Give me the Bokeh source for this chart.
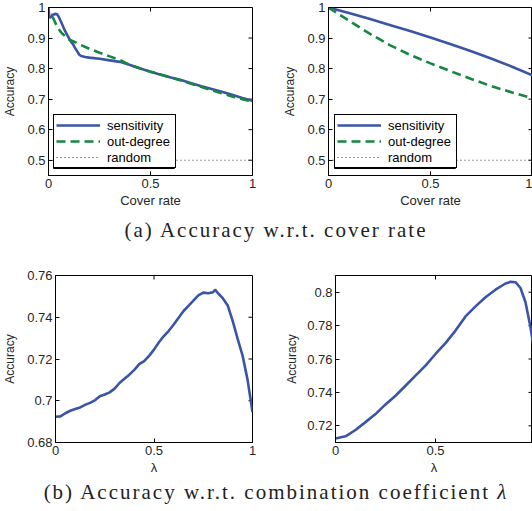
import math
from bokeh.plotting import figure
from bokeh.models import (FixedTicker, CustomJSTickFormatter, Legend,
                          LegendItem, Div, Range1d, BoxAnnotation)
from bokeh.layouts import row, column
from bokeh.embed import file_html
from bokeh.resources import INLINE

# ---------------- data ----------------
# (a-left) accuracy vs cover rate
tl_sens_x = [0, 0.003, 0.006, 0.01, 0.015, 0.02, 0.025, 0.03, 0.035, 0.04, 0.045, 0.05,
             0.06, 0.07, 0.08, 0.09, 0.10, 0.11, 0.12, 0.13, 0.14, 0.15, 0.16, 0.18, 0.20,
             0.25, 0.30, 0.35, 0.40, 0.45, 0.50, 0.55, 0.60, 0.65, 0.70, 0.75, 0.80, 0.85,
             0.90, 0.95, 1.00]
tl_sens_y = [1.0, 0.975, 0.965, 0.972, 0.968, 0.978, 0.975, 0.98, 0.978, 0.979, 0.975, 0.97,
             0.955, 0.94, 0.925, 0.912, 0.90, 0.888, 0.88, 0.868, 0.857, 0.846, 0.841, 0.838,
             0.836, 0.832, 0.827, 0.822, 0.812, 0.800, 0.790, 0.780, 0.771, 0.763, 0.752,
             0.742, 0.733, 0.724, 0.714, 0.704, 0.695]
tl_out_x = [0.02, 0.03, 0.04, 0.05, 0.06, 0.07, 0.08, 0.09, 0.10, 0.12, 0.15, 0.20, 0.25,
            0.30, 0.35, 0.40, 0.45, 0.50, 0.55, 0.60, 0.65, 0.70, 0.75, 0.80, 0.85, 0.90,
            0.95, 1.00]
tl_out_y = [0.97, 0.955, 0.94, 0.93, 0.92, 0.913, 0.907, 0.90, 0.895, 0.89, 0.88, 0.865,
            0.852, 0.84, 0.828, 0.812, 0.80, 0.79, 0.781, 0.771, 0.761, 0.750, 0.740, 0.729,
            0.719, 0.709, 0.700, 0.692]
# (a-right)
tr_sens_x = [0, 0.1, 0.2, 0.3, 0.4, 0.5, 0.6, 0.7, 0.8, 0.9, 1.0]
tr_sens_y = [1.0, 0.982, 0.963, 0.943, 0.923, 0.902, 0.880, 0.857, 0.832, 0.806, 0.778]
tr_out_x = [0, 0.05, 0.1, 0.2, 0.3, 0.4, 0.5, 0.6, 0.7, 0.8, 0.9, 1.0]
tr_out_y = [1.0, 0.978, 0.957, 0.915, 0.877, 0.845, 0.817, 0.791, 0.766, 0.742, 0.722, 0.703]
random_x = [0, 1]
random_y = [0.5, 0.5]

# (b-left) accuracy vs lambda
bl_x = [0, 0.025, 0.05, 0.075, 0.1, 0.125, 0.15, 0.175, 0.2, 0.225, 0.25, 0.275, 0.3,
        0.325, 0.35, 0.375, 0.4, 0.425, 0.45, 0.475, 0.5, 0.525, 0.55, 0.575, 0.6, 0.625,
        0.65, 0.675, 0.7, 0.725, 0.75, 0.775, 0.8, 0.81, 0.825, 0.85, 0.875, 0.9, 0.925,
        0.95, 0.975, 1.0]
bl_y = [0.6923, 0.6925, 0.694, 0.6952, 0.696, 0.6968, 0.698, 0.699, 0.7002, 0.7022, 0.7030,
        0.704, 0.7058, 0.7085, 0.7105, 0.7125, 0.7148, 0.7175, 0.7190, 0.7215, 0.7245, 0.728,
        0.731, 0.7335, 0.7365, 0.7398, 0.743, 0.7455, 0.748, 0.7505, 0.7518, 0.7515, 0.7520,
        0.7532, 0.7515, 0.7490, 0.7455, 0.738, 0.7295, 0.7215, 0.710, 0.6946]
# (b-right)
br_x = [0, 0.05, 0.1, 0.15, 0.2, 0.25, 0.3, 0.35, 0.4, 0.45, 0.5, 0.55, 0.6, 0.65, 0.7,
        0.75, 0.8, 0.85, 0.875, 0.9, 0.925, 0.95, 0.975, 1.0]
br_y = [0.7124, 0.7137, 0.7175, 0.7222, 0.727, 0.7328, 0.738, 0.744, 0.750, 0.756, 0.763,
        0.7695, 0.777, 0.7855, 0.7915, 0.797, 0.8015, 0.8052, 0.8062, 0.806, 0.8025, 0.794,
        0.779, 0.76]

cover_ticks = [0, 0.5, 1]
acc_ticks_a = [0.5, 0.6, 0.7, 0.8, 0.9, 1.0]
acc_ticks_bl = [0.68, 0.70, 0.72, 0.74, 0.76]
acc_ticks_br = [0.72, 0.74, 0.76, 0.78, 0.80]
legend_labels = ["sensitivity", "out-degree", "random"]
captions = ["(a) Accuracy w.r.t. cover rate",
            "(b) Accuracy w.r.t. combination coefficient <i>&lambda;</i>"]

BLUE = "#3a54a6"
GREEN = "#15873f"
FONT = "Liberation Sans"
TXT = "#262626"

# legend geometry (screen px)
LEG_PAD, LEG_GLYPH_W, LEG_ROW_H, LEG_STANDOFF, LEG_LABEL_W = 2, 44, 16, 7, 66


def fmt():
    return CustomJSTickFormatter(code="return String(parseFloat(tick.toFixed(4)));")


def make_fig(width, height, mbl, mbr, mbt, mbb, xr, yr, xticks, yticks, xlabel,
             ylabel_standoff=7):
    p = figure(width=width, height=height, x_range=Range1d(*xr), y_range=Range1d(*yr),
               output_backend="svg", toolbar_location=None,
               min_border_left=mbl, min_border_right=mbr,
               min_border_top=mbt, min_border_bottom=mbb)
    p.xgrid.visible = False
    p.ygrid.visible = False
    p.outline_line_color = "black"
    p.outline_line_alpha = 1
    p.outline_line_width = 1
    p.background_fill_color = "white"
    p.border_fill_color = "white"

    xa = p.xaxis[0]
    ya = p.yaxis[0]
    xa.ticker = FixedTicker(ticks=xticks)
    ya.ticker = FixedTicker(ticks=yticks)
    xa.formatter = fmt()
    ya.formatter = fmt()
    xa.axis_label = xlabel
    ya.axis_label = "Accuracy"
    for ax in (xa, ya):
        ax.axis_line_color = "black"
        ax.major_tick_in = 4
        ax.major_tick_out = 0
        ax.major_tick_line_color = "black"
        ax.minor_tick_line_color = None
        ax.major_label_text_font = FONT
        ax.major_label_text_font_size = "13px"
        ax.major_label_text_color = TXT
        ax.major_label_standoff = 3
        ax.axis_label_text_font = FONT
        ax.axis_label_text_font_style = "normal"
        ax.axis_label_text_color = TXT
    xa.axis_label_text_font_size = "13px"
    ya.axis_label_text_font_size = "12px"
    xa.axis_label_standoff = 2
    ya.axis_label_standoff = ylabel_standoff

    # inward tick marks on the top and right edges of the box (MATLAB "box on")
    tx = [t for t in xticks if xr[0] <= t <= xr[1]]
    ty = [t for t in yticks if yr[0] <= t <= yr[1]]
    p.ray(x=tx, y=[yr[1]] * len(tx), length=4, length_units="screen",
          angle=-math.pi / 2, line_color="black", line_width=1)
    p.ray(x=[xr[1]] * len(ty), y=ty, length=4, length_units="screen",
          angle=math.pi, line_color="black", line_width=1)
    return p


def add_cover_lines(p, sx, sy, ox, oy, legend_x, legend_y, frame_w, frame_h, xr, yr):
    r1 = p.line(sx, sy, line_color=BLUE, line_width=2.6)
    r2 = p.line(ox, oy, line_color=GREEN, line_width=2.6, line_dash="9 5")
    r3 = p.line(random_x, random_y, line_color="#333333", line_width=1, line_dash="1 3")
    leg = Legend(items=[LegendItem(label=legend_labels[0], renderers=[r1]),
                        LegendItem(label=legend_labels[1], renderers=[r2]),
                        LegendItem(label=legend_labels[2], renderers=[r3])],
                 location=(legend_x, legend_y))
    leg.border_line_color = "black"
    leg.border_line_width = 1
    leg.border_line_alpha = 1.0
    leg.background_fill_color = "white"
    leg.background_fill_alpha = 1.0
    leg.label_text_font = FONT
    leg.label_text_font_size = "13px"
    leg.label_text_line_height = 1.0
    leg.label_text_color = "black"
    leg.glyph_width = LEG_GLYPH_W
    leg.glyph_height = LEG_ROW_H
    leg.label_height = LEG_ROW_H
    leg.label_width = LEG_LABEL_W
    leg.spacing = 0
    leg.padding = LEG_PAD
    leg.margin = 0
    leg.label_standoff = LEG_STANDOFF
    p.add_layout(leg, "center")

    # explicit outline of the legend box (stroke only), same geometry as the legend
    w = 2 * LEG_PAD + LEG_GLYPH_W + LEG_STANDOFF + LEG_LABEL_W
    h = 2 * LEG_PAD + 3 * LEG_ROW_H
    kx = (xr[1] - xr[0]) / frame_w
    ky = (yr[1] - yr[0]) / frame_h
    box = BoxAnnotation(left=xr[0] + legend_x * kx, right=xr[0] + (legend_x + w) * kx,
                        bottom=yr[0] + legend_y * ky, top=yr[0] + (legend_y + h) * ky,
                        fill_color=None, fill_alpha=0, line_color="black", line_width=1,
                        line_alpha=1.0)
    p.add_layout(box, "center")


# top row: frames at x 48..252 and 328..532, y 7..175
XR_A, YR_A = (0, 1), (0.45, 1.0)
tl = make_fig(280, 210, 48, 28, 7, 35, XR_A, YR_A, cover_ticks, acc_ticks_a, "Cover rate")
add_cover_lines(tl, tl_sens_x, tl_sens_y, tl_out_x, tl_out_y, 5, 7, 204, 168, XR_A, YR_A)

tr = make_fig(252, 210, 48, 0, 7, 35, XR_A, YR_A, cover_ticks, acc_ticks_a, "Cover rate")
add_cover_lines(tr, tr_sens_x, tr_sens_y, tr_out_x, tr_out_y, 6, 7, 204, 168, XR_A, YR_A)

# bottom row: frames at x 55..252 and 335..532, y 275..442
bl = make_fig(280, 227, 55, 28, 25, 35, (0, 1), (0.68, 0.76), cover_ticks, acc_ticks_bl,
              "λ")
bl.line(bl_x, bl_y, line_color=BLUE, line_width=2.6)

br = make_fig(252, 227, 55, 0, 25, 35, (0, 0.985), (0.71, 0.81), cover_ticks, acc_ticks_br,
              "λ", ylabel_standoff=5)
br.line(br_x, br_y, line_color=BLUE, line_width=2.6)

cap_style = {"text-align": "center", "font-family": "'Liberation Serif', serif",
             "font-size": "21px", "letter-spacing": "2px", "color": "#222222",
             "overflow": "hidden", "white-space": "nowrap"}
cap_a = Div(text=captions[0], width=512, height=40, margin=(0, 0, 0, 20),
            styles=dict(cap_style, **{"line-height": "40px"}))
cap_b = Div(text=captions[1], width=512, height=30, margin=(0, 0, 0, 20),
            styles=dict(cap_style, **{"line-height": "30px"}))

layout = column(row(tl, tr), cap_a, row(bl, br), cap_b)

open("out.html", "w").write(file_html(layout, INLINE))
